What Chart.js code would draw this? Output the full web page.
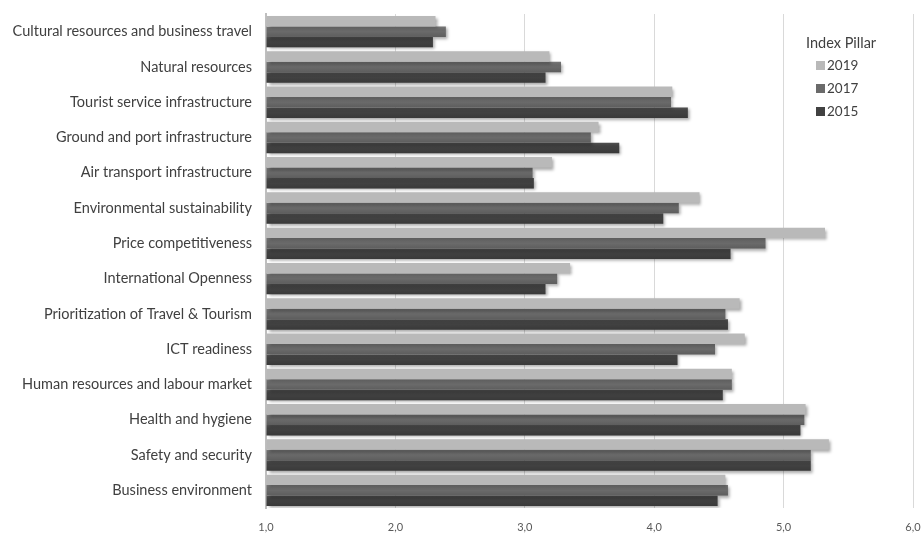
<!DOCTYPE html>
<html>
<head>
<meta charset="utf-8">
<script src="https://cdn.jsdelivr.net/npm/chart.js@4/dist/chart.umd.min.js"></script>
<style>
  html, body { margin: 0; padding: 0; background: #ffffff; }
  #wrap { width: 921px; height: 534px; position: relative; }
</style>
</head>
<body>
<div id="wrap"><canvas id="c"></canvas></div>
<script>
const categories = [
  "Cultural resources and business travel",
  "Natural resources",
  "Tourist service infrastructure",
  "Ground and port infrastructure",
  "Air transport infrastructure",
  "Environmental sustainability",
  "Price competitiveness",
  "International Openness",
  "Prioritization of Travel & Tourism",
  "ICT readiness",
  "Human resources and labour market",
  "Health and hygiene",
  "Safety and security",
  "Business environment"
];
const values2019 = [2.31, 3.19, 4.14, 3.57, 3.21, 4.35, 5.32, 3.35, 4.66, 4.70, 4.60, 5.17, 5.35, 4.55];
const values2017 = [2.39, 3.28, 4.13, 3.51, 3.06, 4.19, 4.86, 3.25, 4.55, 4.47, 4.60, 5.16, 5.21, 4.57];
const values2015 = [2.29, 3.16, 4.26, 3.73, 3.07, 4.07, 4.59, 3.16, 4.57, 4.18, 4.53, 5.13, 5.21, 4.49];
const seriesLabels = ["2019", "2017", "2015"];
const legendTitle = "Index Pillar";
const xTicks = [1, 2, 3, 4, 5, 6];

const colors = ["#b9b9b9", "#6a6a6a", "#414141"];

const shadowPlugin = {
  id: 'barShadow',
  beforeDatasetsDraw(chart) {
    const ctx = chart.ctx;
    ctx.save();
    ctx.shadowColor = 'rgba(0,0,0,0.35)';
    ctx.shadowBlur = 3;
    ctx.shadowOffsetX = 2;
    ctx.shadowOffsetY = 2;
  },
  afterDatasetsDraw(chart) {
    chart.ctx.restore();
    const ctx = chart.ctx;
    chart.data.datasets.forEach((ds, di) => {
      if (di === 0) return;
      const meta = chart.getDatasetMeta(di);
      meta.data.forEach(el => {
        const h = el.height;
        const top = el.y - h / 2;
        const g = ctx.createLinearGradient(0, top, 0, top + h);
        g.addColorStop(0, 'rgba(255,255,255,0.10)');
        g.addColorStop(0.5, 'rgba(0,0,0,0)');
        g.addColorStop(1, 'rgba(0,0,0,0.12)');
        ctx.fillStyle = g;
        ctx.fillRect(Math.min(el.base, el.x), top, Math.abs(el.x - el.base), h);
      });
    });
  }
};

const legendPlugin = {
  id: 'customLegend',
  afterDraw(chart) {
    const ctx = chart.ctx;
    ctx.save();
    ctx.textBaseline = 'middle';
    ctx.fillStyle = '#404040';
    ctx.textAlign = 'left';
    ctx.font = '14.5px Lato, "Open Sans", sans-serif';
    ctx.fillText(legendTitle, 806, 43);
    ctx.font = '13.5px Lato, "Open Sans", sans-serif';
    const ys = [65, 88, 111];
    chart.data.datasets.forEach((ds, i) => {
      const y = ys[i];
      ctx.fillStyle = ds.backgroundColor;
      ctx.fillRect(816, y - 4, 9, 9);
      ctx.fillStyle = '#404040';
      ctx.fillText(ds.label, 827, y + 1);
    });
    ctx.restore();
  }
};

new Chart(document.getElementById('c'), {
  type: 'bar',
  data: {
    labels: categories,
    datasets: [
      { label: seriesLabels[0], data: values2019, backgroundColor: colors[0], base: 1 },
      { label: seriesLabels[1], data: values2017, backgroundColor: colors[1], base: 1 },
      { label: seriesLabels[2], data: values2015, backgroundColor: colors[2], base: 1 }
    ]
  },
  options: {
    indexAxis: 'y',
    responsive: true,
    maintainAspectRatio: false,
    animation: false,
    layout: { padding: { top: 14, left: 0, right: 8, bottom: 0 } },
    datasets: { bar: { barPercentage: 1.0, categoryPercentage: 0.89, borderWidth: 0 } },
    plugins: {
      legend: { display: false },
      tooltip: { enabled: false }
    },
    scales: {
      x: {
        type: 'linear',
        min: 1,
        max: 6,
        afterBuildTicks(scale) { scale.ticks = xTicks.map(v => ({ value: v })); },
        afterFit(scale) { scale.height = 26; scale.paddingRight = 0; scale.paddingLeft = 0; },
        ticks: {
          callback: v => Number(v).toFixed(1).replace('.', ','),
          color: '#595959',
          font: { family: 'Lato, "Open Sans", sans-serif', size: 11 },
          padding: 13,
          maxRotation: 0
        },
        grid: { color: '#d9d9d9', lineWidth: 1, drawTicks: false },
        border: { display: false }
      },
      y: {
        type: 'category',
        afterFit(scale) { scale.width = 266; scale.paddingTop = 0; scale.paddingBottom = 0; },
        ticks: {
          color: '#404040',
          font: { family: 'Lato, "Open Sans", sans-serif', size: 14.5 },
          padding: 14,
          autoSkip: false
        },
        grid: { display: false, drawTicks: false },
        border: { display: true, color: '#bfbfbf', width: 2 }
      }
    }
  },
  plugins: [shadowPlugin, legendPlugin]
});
</script>
</body>
</html>
